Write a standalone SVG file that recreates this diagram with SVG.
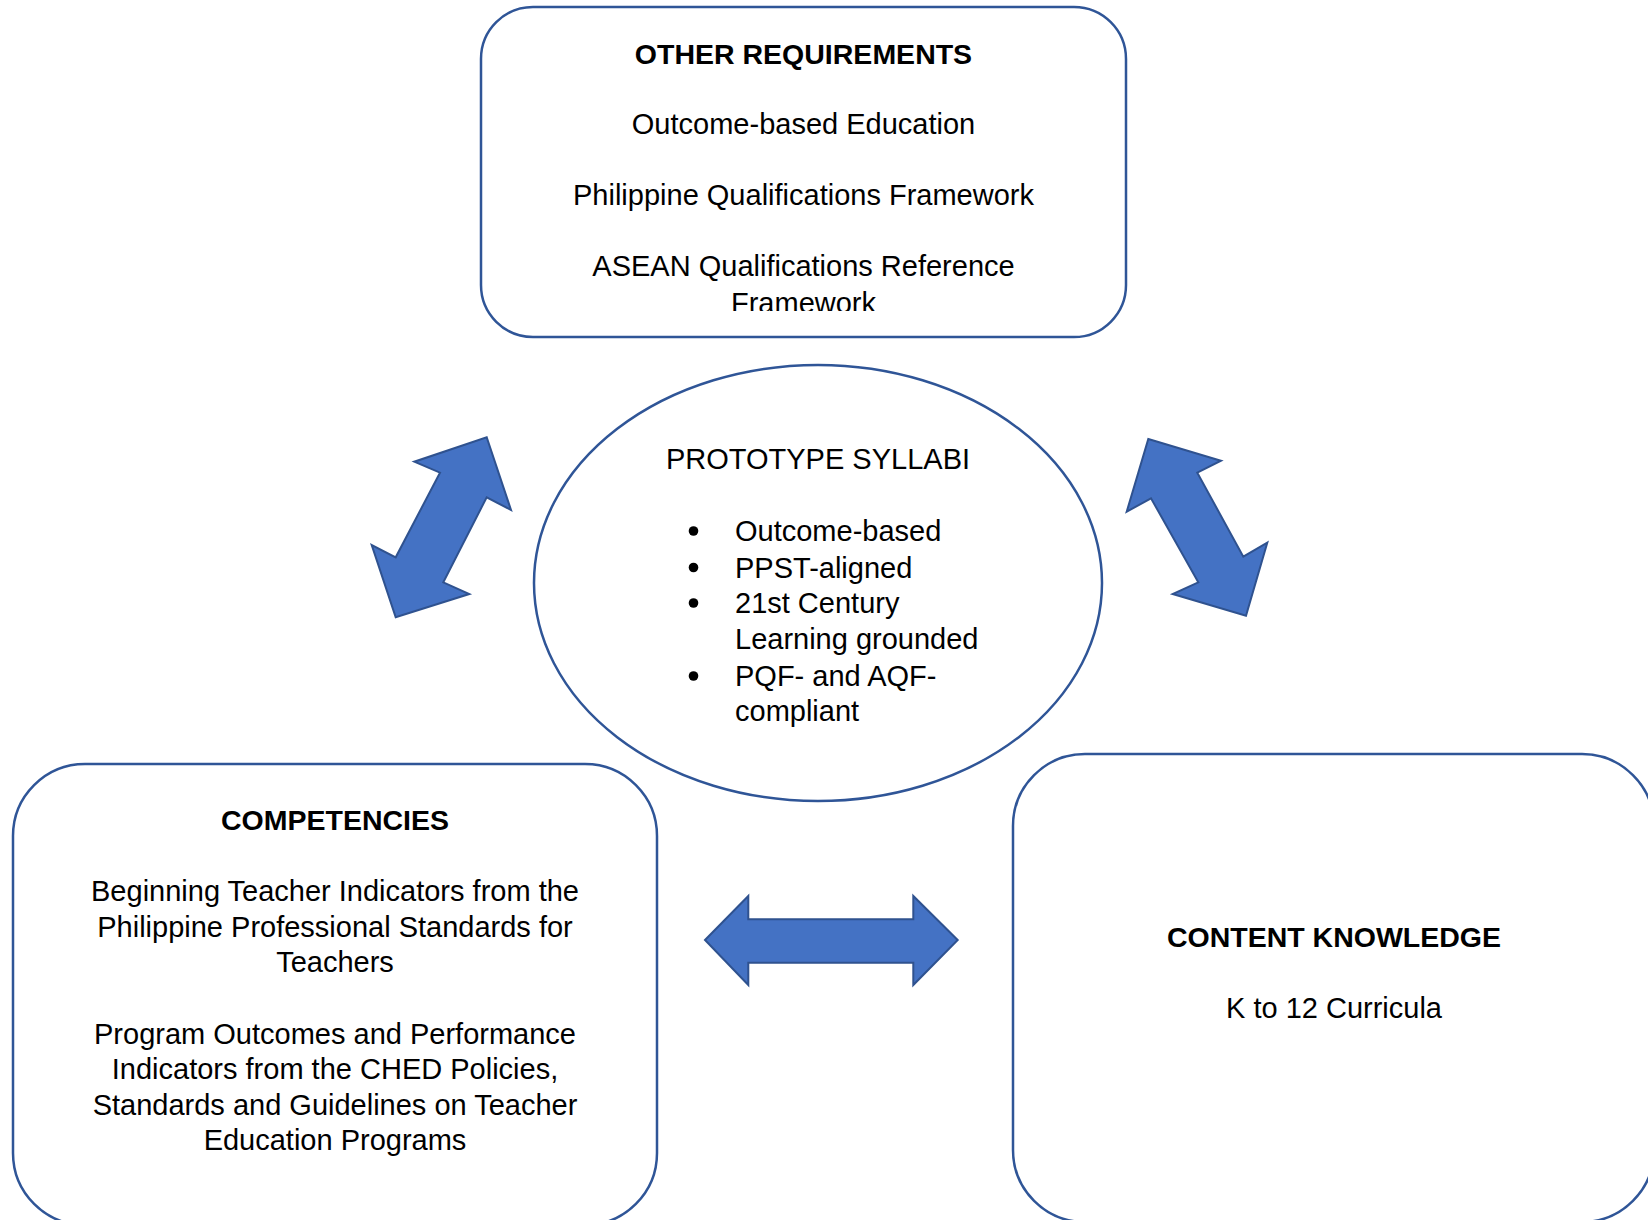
<svg xmlns="http://www.w3.org/2000/svg" width="1648" height="1220" viewBox="0 0 1648 1220">
<style>
.box{fill:#ffffff;stroke:#2F5597;stroke-width:2.5}
.arrow{fill:#4472C4;stroke:#2F528F;stroke-width:2;stroke-linejoin:miter}
text{font-family:"Liberation Sans",Arial,sans-serif;font-size:29px;fill:#000000}
.c{text-anchor:middle}
.b{font-weight:bold;font-size:28.5px}
</style>
<defs>
<clipPath id="topclip"><rect x="481" y="7" width="645" height="304"/></clipPath>
</defs>
<rect width="1648" height="1220" fill="#ffffff"/>

<g id="connectors">
<polygon class="arrow" points="486.7,437.3 511,510 486.7,497.3 443.3,582.3 469.3,594 395.7,617.3 371.7,545 395.7,557.3 440,472.7 414.3,461.7"/>
<polygon class="arrow" points="1148.3,439 1221,460.7 1197.3,472.7 1243.3,556.7 1267.3,542.7 1246,615.7 1172.7,594 1198.3,582.3 1151,498.3 1126.7,511.7"/>
<polygon class="arrow" points="705,940 748.3,896 748.3,919.3 913.3,919.3 913.3,896 957.7,940 913.3,985 913.3,962.7 748.3,962.7 748.3,985"/>
</g>

<g id="other-requirements">
<rect class="box" x="481" y="7" width="645" height="330" rx="52" ry="52"/>
<g clip-path="url(#topclip)">
<text class="c b" x="803.5" y="64">OTHER REQUIREMENTS</text>
<text class="c" x="803.5" y="134">Outcome-based Education</text>
<text class="c" x="803.5" y="205">Philippine Qualifications Framework</text>
<text class="c" x="803.5" y="276">ASEAN Qualifications Reference</text>
<text class="c" x="803.5" y="313">Framework</text>
</g>
</g>

<g id="prototype-syllabi">
<ellipse class="box" cx="818" cy="583" rx="284" ry="218"/>
<text class="c" x="818" y="469" font-size="28">PROTOTYPE SYLLABI</text>
<circle cx="693.5" cy="531" r="4.8" fill="#000"/>
<circle cx="693.5" cy="567.5" r="4.8" fill="#000"/>
<circle cx="693.5" cy="603" r="4.8" fill="#000"/>
<circle cx="693.5" cy="676" r="4.8" fill="#000"/>
<text x="735" y="541">Outcome-based</text>
<text x="735" y="577.5">PPST-aligned</text>
<text x="735" y="613">21st Century</text>
<text x="735" y="649">Learning grounded</text>
<text x="735" y="685.5">PQF- and AQF-</text>
<text x="735" y="721">compliant</text>
</g>

<g id="competencies">
<rect class="box" x="13" y="764" width="644" height="461" rx="72" ry="72"/>
<text class="c b" x="335" y="830">COMPETENCIES</text>
<text class="c" x="335" y="901">Beginning Teacher Indicators from the</text>
<text class="c" x="335" y="936.5">Philippine Professional Standards for</text>
<text class="c" x="335" y="972">Teachers</text>
<text class="c" x="335" y="1043.5">Program Outcomes and Performance</text>
<text class="c" x="335" y="1079">Indicators from the CHED Policies,</text>
<text class="c" x="335" y="1114.5">Standards and Guidelines on Teacher</text>
<text class="c" x="335" y="1150">Education Programs</text>
</g>

<g id="content-knowledge">
<rect class="box" x="1013" y="754" width="641" height="468" rx="72" ry="72"/>
<text class="c b" x="1334" y="947">CONTENT KNOWLEDGE</text>
<text class="c" x="1334" y="1018">K to 12 Curricula</text>
</g>
</svg>
